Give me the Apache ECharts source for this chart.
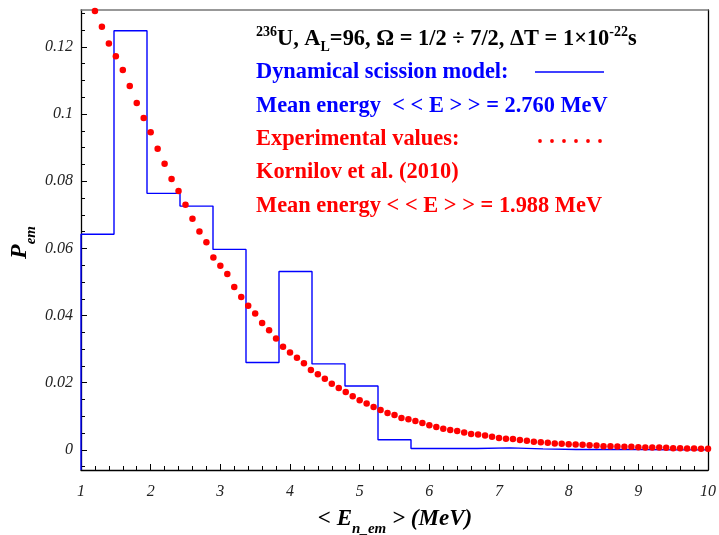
<!DOCTYPE html>
<html>
<head>
<meta charset="utf-8">
<script src="https://cdn.jsdelivr.net/npm/echarts@6/dist/echarts.min.js"></script>
<style>
html,body{margin:0;padding:0;background:#fff;}
#chart{width:719px;height:535px;}
</style>
</head>
<body>
<div id="chart"></div>
<script>
// model histogram: 19 equal bins between 1 and 10 MeV
var binStart = 1
var binEnd = 10
var binValues = [0.0642, 0.1248, 0.0764, 0.0726, 0.0597, 0.0260, 0.0531, 0.0256, 0.0190, 0.0030,
                 0.0004, 0.0004, 0.0006, 0.0003, 0.0001, 0.0001, 0.0001, 0.0000, 0.0000]

// experimental points (Kornilov et al.), from 1.2 MeV in 0.1 MeV steps
var expStart = 1.2
var expStep = 0.1
var expValues = [
  0.1307, 0.1260, 0.1210, 0.1172, 0.1131, 0.1084, 0.1033, 0.0988,
  0.0946, 0.0897, 0.0852, 0.0807, 0.0771, 0.0730, 0.0688, 0.0650, 0.0618, 0.0573,
  0.0548, 0.0524, 0.0485, 0.0455, 0.0429, 0.0406, 0.0378, 0.0356, 0.0332, 0.0307,
  0.0290, 0.0274, 0.0258, 0.0238, 0.0225, 0.0212, 0.0197, 0.0184, 0.0172, 0.0160,
  0.0148, 0.0138, 0.0128, 0.0119, 0.0110, 0.0104, 0.0095, 0.0091, 0.0086, 0.0080,
  0.0073, 0.0068, 0.0063, 0.0059, 0.0056, 0.0052, 0.0047, 0.0046, 0.0043, 0.0039,
  0.0035, 0.0033, 0.0032, 0.0029, 0.0027, 0.0024, 0.0023, 0.0021, 0.0019, 0.0018,
  0.0017, 0.0016, 0.0015, 0.0014, 0.0013, 0.0011, 0.0011, 0.0010, 0.0009, 0.0009,
  0.0008, 0.0007, 0.0007, 0.0007, 0.0006, 0.0005, 0.0005, 0.0004, 0.0004, 0.0003,
  0.0003
]

var yMin = -0.006
var yMax = 0.131
var yMajor = [0, 0.02, 0.04, 0.06, 0.08, 0.1, 0.12]
var yMinor = [-0.005, 0.005, 0.01, 0.015, 0.025, 0.03, 0.035, 0.045, 0.05, 0.055, 0.065, 0.07,
              0.075, 0.085, 0.09, 0.095, 0.105, 0.11, 0.115, 0.125, 0.13]

var FONT = 'Liberation Serif'

// step line points
var binWidth = (binEnd - binStart) / binValues.length
var histData = [[binStart, yMin]]
for (var i = 0; i < binValues.length; i++) {
  histData.push([binStart + i * binWidth, binValues[i]])
}
histData.push([binEnd, binValues[binValues.length - 1]])

var expData = expValues.map(function (v, i) {
  return [+(expStart + i * expStep).toFixed(2), v]
})

// text with super/subscripts: pieces [text, size, baseline shift]
var ctx2d = document.createElement('canvas').getContext('2d')
function fontOf(size, italic) {
  return (italic ? 'italic ' : '') + 'bold ' + size + 'px "' + FONT + '"'
}
function runWidth(parts, italic) {
  var w = 0
  parts.forEach(function (p) {
    ctx2d.font = fontOf(p[1], italic)
    w += ctx2d.measureText(p[0]).width
  })
  return w
}
function textRun(x, baseline, parts, color, italic) {
  var els = []
  parts.forEach(function (p) {
    els.push({
      type: 'text',
      style: {
        x: x, y: baseline + (p[2] || 0) - 0.3375 * p[1],
        text: p[0], fontFamily: FONT, fontWeight: 'bold', fontSize: p[1],
        fontStyle: italic ? 'italic' : 'normal',
        fill: color, verticalAlign: 'middle'
      }
    })
    ctx2d.font = fontOf(p[1], italic)
    x += ctx2d.measureText(p[0]).width
  })
  return els
}

var BIG = 22.4
var titleParts = [['236', 14, -10], ['U, A', BIG], ['L', 14, 5.5],
                  ['=96, Ω = 1/2 ÷ 7/2, ΔT = 1×10', BIG], ['-22', 14, -10], ['s', BIG]]
var xNameParts = [['< E', 23], ['n_em', 15, 7], [' > (MeV)', 23]]
var yNameParts = [['P', 24], ['em', 15, 9]]

var graphics = []
graphics = graphics.concat(textRun(256, 47, titleParts, '#000'))
graphics = graphics.concat(textRun(256, 80, [['Dynamical scission model:', BIG]], '#0000ff'))
graphics = graphics.concat(textRun(256, 113.3, [['Mean energy  < < E > > = 2.760 MeV', BIG]], '#0000ff'))
graphics = graphics.concat(textRun(256, 146.7, [['Experimental values:', BIG]], '#ff0000'))
graphics = graphics.concat(textRun(256, 180, [['Kornilov et al. (2010)', BIG]], '#ff0000'))
graphics = graphics.concat(textRun(256, 213.3, [['Mean energy < < E > > = 1.988 MeV', BIG]], '#ff0000'))
// legend samples
graphics.push({type: 'line', shape: {x1: 535, y1: 72, x2: 604, y2: 72}, style: {stroke: '#0000ff', lineWidth: 1.5}})
;[540, 552, 564, 576, 588, 600].forEach(function (cx) {
  graphics.push({type: 'circle', shape: {cx: cx, cy: 141, r: 1.9}, style: {fill: '#ff0000'}})
})
// x axis name, centred
var xw = runWidth(xNameParts, true)
graphics = graphics.concat(textRun(395 - xw / 2, 527, xNameParts, '#000', true))
// y axis name, rotated
graphics.push({
  type: 'group', x: 27.5, y: 259, rotation: Math.PI / 2,
  children: textRun(0, 0, yNameParts, '#000', true)
})

var myChart = echarts.init(document.getElementById('chart'))

var hidden = {
  axisTick: {show: false},
  axisLabel: {show: false},
  splitLine: {show: false}
}

var option = {
  animation: false,
  backgroundColor: '#fff',
  grid: {left: 81, right: 10, top: 10, bottom: 65},
  xAxis: [
    {
      type: 'value', min: 1, max: 10, interval: 1, position: 'bottom',
      axisLine: {onZero: false, lineStyle: {color: '#000', width: 1.3}},
      axisTick: {inside: true, length: 6, lineStyle: {color: '#000'}},
      minorTick: {show: true, splitNumber: 5, length: 4, lineStyle: {color: '#000'}},
      axisLabel: {margin: 14, fontFamily: FONT, fontStyle: 'italic', fontSize: 16, color: '#222'},
      splitLine: {show: false}
    },
    Object.assign({
      type: 'value', min: 1, max: 10, position: 'top',
      axisLine: {onZero: false, lineStyle: {color: '#777', width: 1.5}}
    }, hidden)
  ],
  yAxis: [
    {
      type: 'value', min: yMin, max: yMax, position: 'left',
      axisLine: {show: true, onZero: false, lineStyle: {color: '#000', width: 1.3}},
      axisTick: {inside: true, length: 6, customValues: yMajor, lineStyle: {color: '#000'}},
      axisLabel: {
        customValues: yMajor, margin: 8,
        fontFamily: FONT, fontStyle: 'italic', fontSize: 16, color: '#222',
        formatter: function (v) { return String(+v.toFixed(3)) }
      },
      splitLine: {show: false}
    },
    {
      type: 'value', min: yMin, max: yMax, position: 'left',
      axisLine: {show: false, onZero: false},
      axisTick: {inside: true, length: 4, customValues: yMinor, lineStyle: {color: '#000'}},
      axisLabel: {show: false},
      splitLine: {show: false}
    },
    Object.assign({
      type: 'value', min: yMin, max: yMax, position: 'right',
      axisLine: {show: true, onZero: false, lineStyle: {color: '#000', width: 1.3}}
    }, hidden)
  ],
  series: [
    {
      name: 'Dynamical scission model',
      type: 'line',
      step: 'end',
      symbol: 'none',
      data: histData,
      lineStyle: {color: '#0000ff', width: 1.4},
      z: 3
    },
    {
      name: 'Experimental values',
      type: 'scatter',
      symbol: 'circle',
      symbolSize: 6.5,
      data: expData,
      itemStyle: {color: '#ff0000', opacity: 1},
      z: 4
    }
  ],
  graphic: graphics
}

myChart.setOption(option)
window.addEventListener('resize', function () {
  myChart.resize()
})
</script>
</body>
</html>
